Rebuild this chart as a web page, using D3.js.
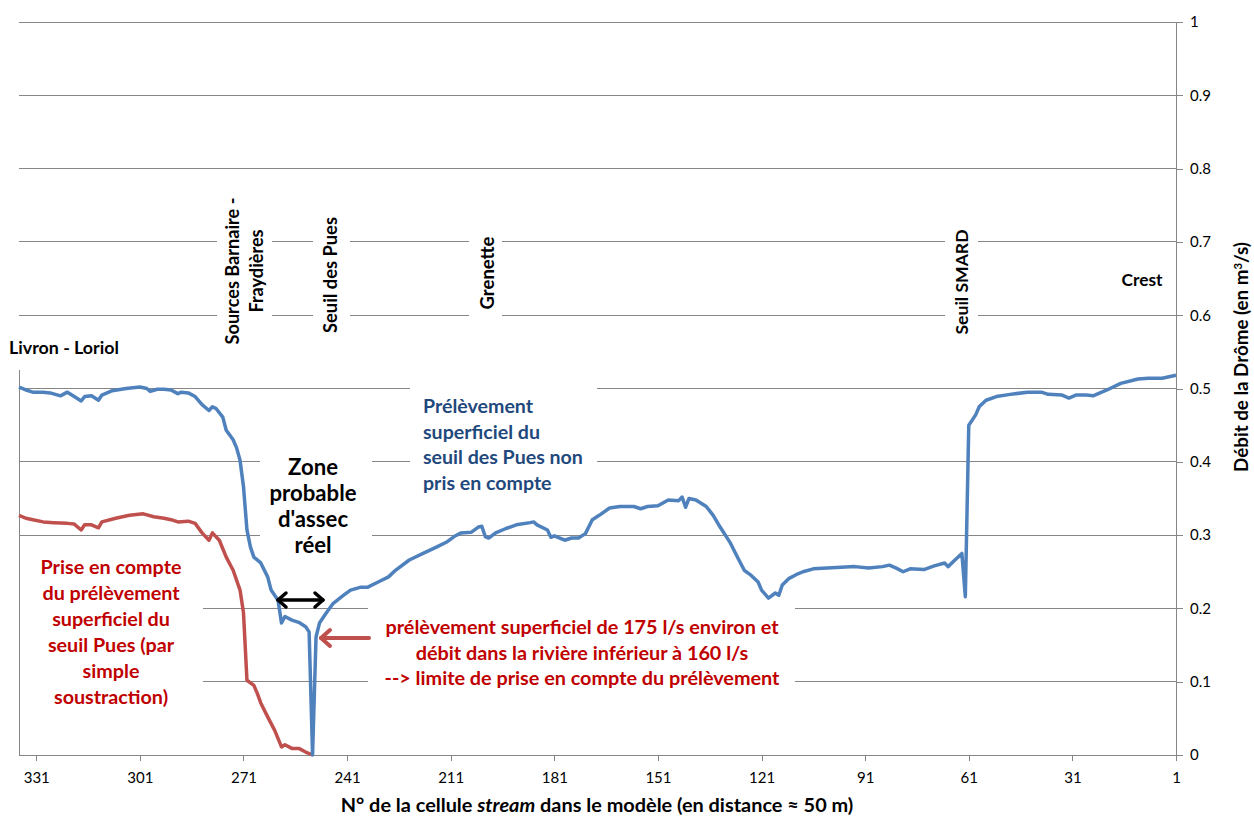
<!DOCTYPE html>
<html><head><meta charset="utf-8">
<script src="https://cdn.jsdelivr.net/npm/d3@7"></script>
<style>
body{margin:0;background:#fff}
svg text{font-family:Lato,"Open Sans","Liberation Sans",sans-serif}
</style>
</head><body>
<svg id="chart" width="1254" height="817"></svg>
<script>
// ---- data ----
const blueCells = [336,334,332,329,327,324,322,320,318,317,315,313,312,309,305,301,299,298,296,294,292,290,289,287,285,283,281,280,279,277,276,274,273,272,271,270,269,268,266,264,263,261,260,259,257,255,253,252,251,250,249,247,245,242,240,237,235,232,229,227,223,219,215,212,210,208,205,203,202,201,200,198,195,192,188,187,186,183,182,181,178,176,174,172,170,168,165,162,158,156,154,151,148,145,144,143,142,140,137,135,133,130,128,126,124,122,121,119,117,116,115,113,111,109,106,102,98,94,90,86,84,82,80,78,74,71,68,67,65,63,62,61,59,58,56,53,49,44,40,38,34,32,30,27,25,21,17,12,9,5,1];
const blueValues = [.502,.498,.495,.495,.494,.490,.495,.489,.483,.489,.490,.484,.491,.497,.500,.502,.500,.496,.499,.499,.498,.493,.495,.494,.489,.478,.470,.475,.473,.461,.443,.430,.419,.402,.366,.307,.284,.270,.262,.243,.225,.211,.180,.189,.184,.181,.175,.168,0,.161,.180,.194,.207,.218,.225,.229,.229,.236,.243,.252,.266,.275,.284,.291,.298,.303,.304,.311,.312,.298,.296,.303,.309,.314,.317,.318,.314,.307,.297,.299,.293,.296,.296,.302,.321,.327,.337,.339,.339,.336,.339,.340,.348,.347,.352,.338,.350,.348,.339,.327,.311,.289,.270,.252,.245,.236,.225,.214,.221,.218,.232,.241,.246,.250,.254,.255,.256,.257,.255,.257,.259,.255,.250,.254,.253,.258,.262,.257,.266,.275,.216,.450,.464,.475,.484,.489,.492,.495,.495,.492,.491,.487,.491,.491,.490,.498,.507,.513,.514,.514,.518];
const redCells = [336,334,332,329,326,322,320,318,317,315,313,312,308,304,300,297,294,292,290,287,285,283,281,280,278,276,274,272,271,270,268,267,266,264,262,260,259,257,255,253,251];
const redValues = [.327,.323,.321,.318,.317,.316,.315,.307,.314,.314,.310,.318,.323,.327,.329,.325,.323,.321,.318,.319,.316,.303,.293,.303,.293,.270,.252,.225,.194,.102,.095,.084,.071,.052,.034,.011,.014,.009,.009,.004,0];
const xTickLabels = [331,301,271,241,211,181,151,121,91,61,31,1];
const yTickValues = [0,0.1,0.2,0.3,0.4,0.5,0.6,0.7,0.8,0.9,1];
const seriesNames = ["Prélèvement superficiel du seuil des Pues non pris en compte","Prise en compte du prélèvement superficiel du seuil Pues (par simple soustraction)"];
const siteLabels = ["Livron - Loriol","Sources Barnaire -|Fraydières","Seuil des Pues","Grenette","Seuil SMARD","Crest"];

// ---- layout ----
const W=1254,H=817, L=19, R=1176, T=22, B=755;
const svg=d3.select("#chart");
svg.append("rect").attr("width",W).attr("height",H).attr("fill","#fff");
const x=d3.scaleLinear().domain([336,1]).range([L,R]);
const y=d3.scaleLinear().domain([0,1]).range([B,T]);
const gridCol="#868686";

// gridlines
svg.append("g").selectAll("line").data(yTickValues).join("line")
  .attr("x1",L).attr("x2",R).attr("y1",d=>y(d)).attr("y2",d=>y(d))
  .attr("stroke",gridCol).attr("stroke-width",1).attr("shape-rendering","crispEdges");
// left border line
svg.append("line").attr("x1",L).attr("x2",L).attr("y1",370).attr("y2",B)
  .attr("stroke",gridCol).attr("shape-rendering","crispEdges");

// white boxes of text annotations (they hide gridlines)
const boxes=[[217,272,190,350],[313,350,210,340],[469,502,230,320],[945,978,226,340],
  [410,597,380,470],[260,372,448,556],[20,203,552,712],[368,795,600,695]];
svg.append("g").selectAll("rect").data(boxes).join("rect")
  .attr("x",d=>d[0]).attr("y",d=>d[2]).attr("width",d=>d[1]-d[0]).attr("height",d=>d[3]-d[2])
  .attr("fill","#fff");

// axes
const yAxis=d3.axisRight(y).tickValues(yTickValues).tickSize(7).tickSizeOuter(0).tickPadding(7)
  .tickFormat(d=>d3.format("~g")(d));
const gy=svg.append("g").attr("transform",`translate(${R},0)`).call(yAxis);
const xAxis=d3.axisBottom(x).tickValues(xTickLabels).tickSize(6).tickSizeOuter(0).tickPadding(11);
const gx=svg.append("g").attr("transform",`translate(0,${B})`).call(xAxis);
[gx,gy].forEach(g=>{
  g.select(".domain").attr("stroke",gridCol).attr("shape-rendering","crispEdges");
  g.selectAll(".tick line").attr("stroke",gridCol).attr("shape-rendering","crispEdges");
  g.selectAll(".tick text").attr("fill","#000").style("font-size","15px").style("font-family","Lato,'Open Sans',sans-serif");
});

// series
const line=d3.line().x(d=>x(d[0])).y(d=>y(d[1]));
svg.append("path").datum(redCells.map((c,i)=>[c,redValues[i]]))
  .attr("d",line).attr("fill","none").attr("stroke","#C0504D").attr("stroke-width",3.5).attr("stroke-linejoin","round");
svg.append("path").datum(blueCells.map((c,i)=>[c,blueValues[i]]))
  .attr("d",line).attr("fill","none").attr("stroke","#4F81BD").attr("stroke-width",3.5).attr("stroke-linejoin","round");

// text helper
function block(lines,opt){
  const g=svg.append("g").attr("transform",`translate(${opt.x},${opt.y})`);
  const n=lines.length, lh=opt.lh||26;
  const t=g.selectAll("text").data(lines).join("text")
    .attr("x",0)
    .attr("y",(d,i)=>(i-(n-1)/2)*lh)
    .attr("dy","0.35em")
    .attr("text-anchor",opt.anchor||"middle")
    .attr("font-weight",opt.weight||"bold")
    .attr("fill",opt.color||"#000")
    .style("font-size","16px")
    .text(d=>d);
  if(opt.w){
    let m=0; t.each(function(){m=Math.max(m,this.getComputedTextLength());});
    t.style("font-size",(16*opt.w/m)+"px");
  }
  return g;
}
function rotLabel(lines,cx,cy,w,gap){
  const g=svg.append("g").attr("transform",`translate(${cx},${cy}) rotate(-90)`);
  const n=lines.length;
  const t=g.selectAll("text").data(lines).join("text")
    .attr("x",0).attr("y",(d,i)=>(i-(n-1)/2)*gap).attr("dy","0.35em")
    .attr("text-anchor","middle").attr("font-weight","bold").attr("fill","#000")
    .style("font-size","16px").text(d=>d);
  let m=0; t.each(function(){m=Math.max(m,this.getComputedTextLength());});
  t.style("font-size",(16*w/m)+"px");
}

block([siteLabels[0]],{x:9,y:348,anchor:"start",w:110});
rotLabel(siteLabels[1].split("|"),245,271,147,24);
rotLabel([siteLabels[2]],331,275,116,24);
rotLabel([siteLabels[3]],487,273,73,24);
rotLabel([siteLabels[4]],962,282,105,24);
block([siteLabels[5]],{x:1142,y:280,w:41});

block(["Zone","probable","d'assec","réel"],{x:313,y:506,w:87,lh:26});
block(["Prélèvement","superficiel du","seuil des Pues non","pris en compte"],{x:423,y:444.5,anchor:"start",w:160,color:"#1F497D",lh:25.7});
block(["Prise en compte","du prélèvement","superficiel du","seuil Pues (par","simple","soustraction)"],{x:111,y:632,w:141,color:"#C00000",lh:26});
block(["prélèvement superficiel de 175 l/s environ et","débit dans la rivière inférieur à 160 l/s","--> limite de prise en compte du prélèvement"],{x:582,y:653,w:395,color:"#C00000",lh:25.5});

// arrows
const dbl=svg.append("g").attr("stroke","#000").attr("stroke-width",3.5).attr("fill","none").attr("stroke-linecap","round").attr("stroke-linejoin","round");
dbl.append("line").attr("x1",278).attr("x2",323).attr("y1",600).attr("y2",600);
dbl.append("path").attr("d","M286,593 L278,600 L286,607");
dbl.append("path").attr("d","M315,593 L323,600 L315,607");
const ra=svg.append("g").attr("stroke","#C0504D").attr("stroke-width",4).attr("fill","none").attr("stroke-linecap","round").attr("stroke-linejoin","round");
ra.append("line").attr("x1",321).attr("x2",369).attr("y1",638).attr("y2",638);
ra.append("path").attr("d","M330,630 L321,638 L330,646");

// axis titles
const xt=svg.append("text").attr("x",597).attr("y",805).attr("dy","0.35em").attr("text-anchor","middle")
  .attr("font-weight","bold").attr("fill","#000").style("font-size","16px");
xt.append("tspan").text("N° de la cellule ");
xt.append("tspan").attr("font-style","italic").text("stream");
xt.append("tspan").text(" dans le modèle (en distance ≈ 50 m)");
xt.style("font-size",(16*513/xt.node().getComputedTextLength())+"px");
const yt=svg.append("text").attr("transform","translate(1241,357) rotate(-90)").attr("dy","0.35em").attr("text-anchor","middle")
  .attr("font-weight","bold").attr("fill","#000").style("font-size","16px");
yt.append("tspan").text("Débit de la Drôme (en m");
yt.append("tspan").attr("baseline-shift","super").style("font-size","0.6em").text("3");
yt.append("tspan").text("/s)");
yt.style("font-size",(16*230/yt.node().getComputedTextLength())+"px");
</script>
</body></html>
